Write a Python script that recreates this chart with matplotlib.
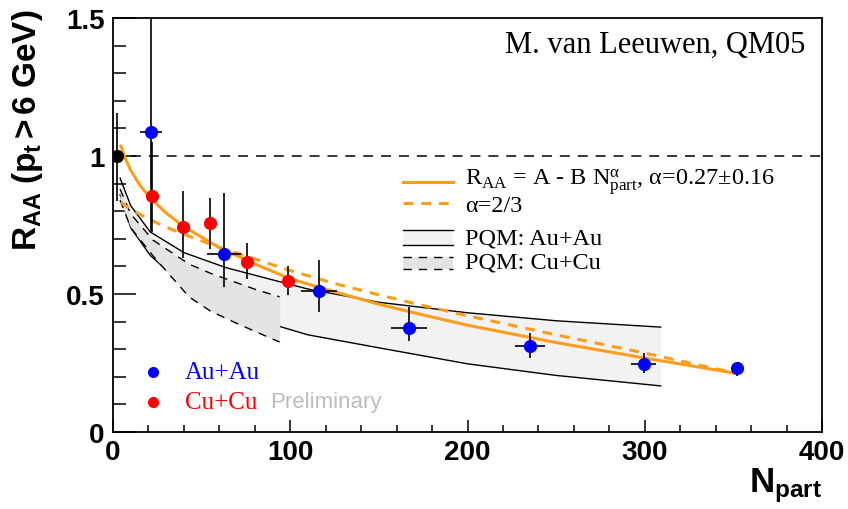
import matplotlib
matplotlib.use("Agg")
import matplotlib.pyplot as plt
from matplotlib.ticker import MultipleLocator, FuncFormatter
from matplotlib.patches import Rectangle

# ---------------- data ----------------
# Au+Au (blue)
au_npart = [21.4, 62.6, 116.2, 167.0, 235.3, 299.5, 352.0]
au_raa = [1.087, 0.645, 0.511, 0.377, 0.312, 0.246, 0.232]
au_err_lo = [0.36, 0.120, 0.076, 0.047, 0.044, 0.032, 0.029]
au_err_hi = [0.55, 0.221, 0.112, 0.076, 0.047, 0.040, 0.022]
au_npart_err = [6.2, 9.6, 10.4, 10.0, 8.7, 7.0, 0.0]

# Cu+Cu preliminary (red)
cu_npart = [22.0, 39.5, 54.7, 75.6, 98.7]
cu_raa = [0.855, 0.743, 0.757, 0.616, 0.547]
cu_err_lo = [0.130, 0.113, 0.094, 0.062, 0.051]
cu_err_hi = [0.196, 0.130, 0.091, 0.069, 0.054]

# reference point (black)
ref_npart = [2.3]
ref_raa = [1.0]
ref_err_lo = [0.163]
ref_err_hi = [0.156]

# fit curves R_AA = A - B N^alpha
fit_npart = [4.5, 7, 10, 15, 20, 30, 40, 60, 80, 100, 125, 150, 175, 200, 250, 300, 350]
fit_free = [1.036, 0.990, 0.948, 0.896, 0.855, 0.793, 0.744, 0.668, 0.609, 0.555,
            0.508, 0.463, 0.424, 0.387, 0.324, 0.268, 0.214]
fit_23 = [0.833, 0.820, 0.808, 0.789, 0.772, 0.742, 0.716, 0.669, 0.627, 0.585,
          0.538, 0.497, 0.458, 0.421, 0.352, 0.286, 0.215]

# PQM bands
pqm_au_npart = [4, 10, 21, 40, 64, 89, 110, 150, 200, 250, 309]
pqm_au_hi = [0.920, 0.820, 0.725, 0.650, 0.595, 0.553, 0.518, 0.470, 0.432, 0.403, 0.380]
pqm_au_lo = [0.860, 0.740, 0.640, 0.530, 0.460, 0.392, 0.352, 0.305, 0.247, 0.205, 0.167]

pqm_cu_npart = [4, 10, 22.6, 43, 55, 68, 81, 94]
pqm_cu_hi = [0.880, 0.790, 0.695, 0.608, 0.575, 0.545, 0.515, 0.490]
pqm_cu_lo = [0.840, 0.740, 0.638, 0.489, 0.438, 0.399, 0.362, 0.326]

x_ticks = [0, 100, 200, 300, 400]
y_ticks = [0, 0.5, 1.0, 1.5]

# ---------------- style ----------------
plt.rcParams["mathtext.fontset"] = "custom"
plt.rcParams["mathtext.rm"] = "Liberation Serif"
plt.rcParams["mathtext.it"] = "Liberation Serif:italic"
plt.rcParams["mathtext.bf"] = "Liberation Sans:bold"

ORANGE = "#ff9c1a"
BLUE = "#0000ff"
RED = "#ff0000"
AU_FILL = "#f2f2f2"
CU_FILL = "#e4e4e4"
SERIF = "Liberation Serif"
SANS = "Liberation Sans"

fig = plt.figure(figsize=(8.48, 5.10), dpi=100)
ax = fig.add_axes([113 / 848, 1 - 433 / 510, 709 / 848, 414 / 510])

# PQM bands
ax.fill_between(pqm_au_npart, pqm_au_lo, pqm_au_hi, color=AU_FILL, lw=0, zorder=1)
ax.plot(pqm_au_npart, pqm_au_lo, color="black", lw=1.0, zorder=2)
ax.fill_between(pqm_cu_npart, pqm_cu_lo, pqm_cu_hi, color=CU_FILL, lw=0, zorder=3)
ax.plot(pqm_au_npart, pqm_au_hi, color="black", lw=1.0, zorder=4)
ax.plot(pqm_cu_npart, pqm_cu_hi, color="black", lw=1.0, ls=(0, (6, 5)), zorder=4)
ax.plot(pqm_cu_npart, pqm_cu_lo, color="black", lw=1.0, ls=(0, (6, 5)), zorder=4)

# fits
ax.plot(fit_npart, fit_free, color=ORANGE, lw=2.2, zorder=5)
ax.plot(fit_npart, fit_23, color=ORANGE, lw=2.2, ls=(0, (3.2, 2.6)), zorder=5)

# unity line
ax.axhline(1.0, color="black", lw=1.1, ls=(0, (6.5, 5.2)), zorder=5)

# data points
eb = dict(ecolor="black", elinewidth=1.2, capsize=3.5, capthick=1.2, ls="none",
          marker="o", markersize=9.5, markeredgewidth=0, zorder=8)
ax.errorbar(ref_npart, ref_raa, yerr=[ref_err_lo, ref_err_hi], color="black", **eb)
ax.errorbar(au_npart, au_raa, yerr=[au_err_lo, au_err_hi], xerr=au_npart_err,
            color=BLUE, **eb)
ax.errorbar(cu_npart, cu_raa, yerr=[cu_err_lo, cu_err_hi], color=RED, **eb)

# axes
ax.set_xlim(0, 400)
ax.set_ylim(0, 1.5)
ax.set_xticks(x_ticks)
ax.set_yticks(y_ticks)
ax.xaxis.set_minor_locator(MultipleLocator(20))
ax.yaxis.set_minor_locator(MultipleLocator(0.1))
fmt = FuncFormatter(lambda v, p: f"{v:g}")
ax.xaxis.set_major_formatter(fmt)
ax.yaxis.set_major_formatter(fmt)
ax.tick_params(axis="x", which="major", direction="in", length=8.6, width=1.1,
               labelsize=20, pad=5, top=False)
ax.tick_params(axis="x", which="minor", direction="in", length=5, width=1.1, top=False)
ax.tick_params(axis="y", which="major", direction="in", length=16.5, width=1.1,
               labelsize=20, pad=6, right=False)
ax.tick_params(axis="y", which="minor", direction="in", length=9.4, width=1.1, right=False)
for lab in ax.get_xticklabels() + ax.get_yticklabels():
    lab.set_fontfamily(SANS)
    lab.set_fontweight("bold")
for s in ax.spines.values():
    s.set_linewidth(1.3)

fig.text(28 / 848, 1 - 10 / 510, r"$\mathbf{R_{AA}\ (p_{t} > 6\ GeV)}$",
         rotation=90, ha="center", va="top", fontsize=24)
fig.text(822 / 848, 1 - 486 / 510, r"$\mathbf{N_{part}}$", ha="right", va="center",
         fontsize=25)

# annotation
ax.text(0.976, 0.937, "M. van Leeuwen, QM05", transform=ax.transAxes, ha="right",
        va="center", fontsize=22, family=SERIF)

# legend (upper right)
tr = ax.transAxes
lx0, lx1, tx = 0.409, 0.480, 0.4965
ax.plot([lx0, lx1], [0.603, 0.603], transform=tr, color=ORANGE, lw=2.2, zorder=6)
ax.text(tx, 0.606, r"R$_{\mathrm{AA}}$ = A - B N$^{\mathrm{α}}_{\mathrm{part}}$, α=0.27±0.16",
        transform=tr, ha="left", va="center", fontsize=17.5, family=SERIF)
ax.plot([lx0, lx1], [0.552, 0.552], transform=tr, color=ORANGE, lw=2.2,
        ls=(0, (3.2, 2.6)), zorder=6)
ax.text(tx, 0.547, "α=2/3", transform=tr, ha="left", va="center", fontsize=17.5,
        family=SERIF)
ax.add_patch(Rectangle((lx0, 0.452), lx1 - lx0, 0.036, transform=tr,
                       facecolor=AU_FILL, edgecolor="none", zorder=6))
for yy in (0.452, 0.488):
    ax.plot([lx0, lx1], [yy, yy], transform=tr, color="black", lw=1.0, zorder=7)
ax.text(tx, 0.468, "PQM: Au+Au", transform=tr, ha="left", va="center", fontsize=17.5,
        family=SERIF)
ax.add_patch(Rectangle((lx0, 0.394), lx1 - lx0, 0.029, transform=tr,
                       facecolor=CU_FILL, edgecolor="none", zorder=6))
for yy in (0.394, 0.423):
    ax.plot([lx0, lx1], [yy, yy], transform=tr, color="black", lw=1.0,
            ls=(0, (6, 5)), zorder=7)
ax.text(tx, 0.410, "PQM: Cu+Cu", transform=tr, ha="left", va="center", fontsize=17.5,
        family=SERIF)

# legend (lower left)
ax.plot([0.0564], [0.145], transform=tr, marker="o", color=BLUE, markersize=8,
        markeredgewidth=0, zorder=7)
ax.text(0.1016, 0.145, "Au+Au", transform=tr, ha="left", va="center", fontsize=18,
        family=SERIF, color=BLUE)
ax.plot([0.0564], [0.0725], transform=tr, marker="o", color=RED, markersize=8,
        markeredgewidth=0, zorder=7)
ax.text(0.1016, 0.0725, "Cu+Cu", transform=tr, ha="left", va="center", fontsize=18,
        family=SERIF, color=RED)
ax.text(0.2214, 0.0725, "Preliminary", transform=tr, ha="left", va="center",
        fontsize=16, family=SANS, color="#bdbdbd")

fig.savefig("out.png", dpi=100)
